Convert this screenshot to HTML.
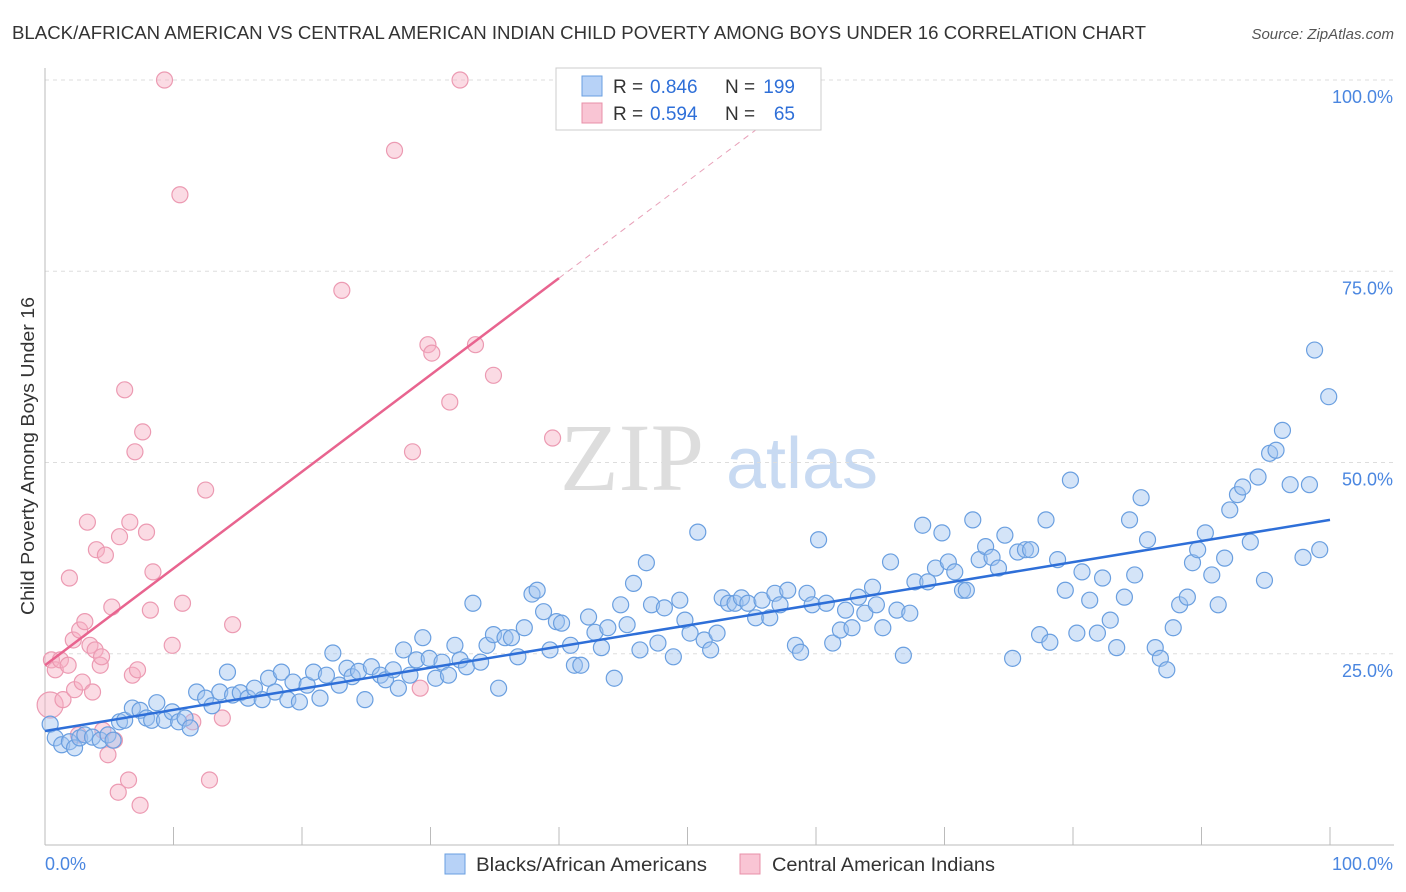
<!DOCTYPE html>
<html><head><meta charset="utf-8"><style>
body{margin:0;background:#fff;font-family:"Liberation Sans",sans-serif;}
svg{display:block}
</style></head><body>
<svg id="chart" width="1406" height="892" xmlns="http://www.w3.org/2000/svg">
<text x="12" y="39" font-size="18" fill="#333" textLength="1134" lengthAdjust="spacingAndGlyphs" font-family="Liberation Sans, sans-serif">BLACK/AFRICAN AMERICAN VS CENTRAL AMERICAN INDIAN CHILD POVERTY AMONG BOYS UNDER 16 CORRELATION CHART</text>
<text x="1394" y="39" font-size="15" fill="#555" text-anchor="end" font-style="italic">Source: ZipAtlas.com</text>
<g>
<text x="632" y="490" font-size="96" fill="#ddd" font-family="Liberation Serif, serif" text-anchor="middle">ZIP</text>
<text x="802" y="488" font-size="72" fill="#c8daf2" text-anchor="middle">atlas</text>
</g>
<g id="grid"></g><g id="axes"></g><g id="marks"></g>
<text transform="translate(34,456) rotate(-90)" font-size="18" fill="#333" text-anchor="middle" textLength="318" lengthAdjust="spacingAndGlyphs">Child Poverty Among Boys Under 16</text>
<g>
<rect x="556" y="68" width="265" height="62" fill="#fff" stroke="#ccc"/>
<rect x="582" y="76" width="20" height="20" fill="#b7d2f7" stroke="#6a9fe0"/>
<rect x="582" y="103" width="20" height="20" fill="#f9c5d4" stroke="#e890a8"/>
<text x="613" y="93" font-size="19" fill="#333">R =</text>
<text x="650" y="93" font-size="19" fill="#2e6fd8">0.846</text>
<text x="725" y="93" font-size="19" fill="#333">N =</text>
<text x="795" y="93" font-size="19" fill="#2e6fd8" text-anchor="end">199</text>
<text x="613" y="120" font-size="19" fill="#333">R =</text>
<text x="650" y="120" font-size="19" fill="#2e6fd8">0.594</text>
<text x="725" y="120" font-size="19" fill="#333">N =</text>
<text x="795" y="120" font-size="19" fill="#2e6fd8" text-anchor="end">65</text>
</g>
<g>
<rect x="445" y="854" width="20" height="20" fill="#b7d2f7" stroke="#6a9fe0"/>
<text x="476" y="871" font-size="19" fill="#333" textLength="231" lengthAdjust="spacingAndGlyphs">Blacks/African Americans</text>
<rect x="740" y="854" width="20" height="20" fill="#f9c5d4" stroke="#e890a8"/>
<text x="772" y="871" font-size="19" fill="#333" textLength="223" lengthAdjust="spacingAndGlyphs">Central American Indians</text>
</g>
</svg>
<script>
const yTicks=[25,50,75,100];
const yTickLabels=["25.0%","50.0%","75.0%","100.0%"];
const xTicks=[0,10,20,30,40,50,60,70,80,90,100];
const blueX=[0.4,0.8,1.3,1.9,2.3,2.7,3.1,3.7,4.3,4.9,5.3,5.8,6.2,6.8,7.4,7.9,8.3,8.7,9.3,9.9,10.4,10.9,11.3,11.8,12.5,13.0,13.6,14.2,14.6,15.2,15.8,16.3,16.9,17.4,17.9,18.4,18.9,19.3,19.8,20.4,20.9,21.4,21.9,22.4,22.9,23.5,23.9,24.4,24.9,25.4,26.1,26.5,27.1,27.5,27.9,28.4,28.9,29.4,29.9,30.4,30.9,31.4,31.9,32.3,32.8,33.3,33.9,34.4,34.9,35.3,35.8,36.3,36.8,37.3,37.9,38.3,38.8,39.3,39.8,40.2,40.9,41.2,41.7,42.3,42.8,43.3,43.8,44.3,44.8,45.3,45.8,46.3,46.8,47.2,47.7,48.2,48.9,49.4,49.8,50.2,50.8,51.3,51.8,52.3,52.7,53.2,53.7,54.2,54.7,55.3,55.8,56.4,56.8,57.2,57.8,58.4,58.8,59.3,59.7,60.2,60.8,61.3,61.9,62.3,62.8,63.3,63.8,64.4,64.7,65.2,65.8,66.3,66.8,67.3,67.7,68.3,68.7,69.3,69.8,70.3,70.8,71.4,71.7,72.2,72.7,73.2,73.7,74.2,74.7,75.3,75.7,76.3,76.7,77.4,77.9,78.2,78.8,79.4,79.8,80.3,80.7,81.3,81.9,82.3,82.9,83.4,84.0,84.4,84.8,85.3,85.8,86.4,86.8,87.3,87.8,88.3,88.9,89.3,89.7,90.3,90.8,91.3,91.8,92.2,92.8,93.2,93.8,94.4,94.9,95.3,95.8,96.3,96.9,97.9,98.4,98.8,99.2,99.9];
const blueY=[15.8,14.0,13.1,13.5,12.7,14.0,14.4,14.1,13.7,14.4,13.7,16.1,16.3,17.9,17.6,16.6,16.3,18.6,16.3,17.4,16.1,16.6,15.3,20.0,19.2,18.2,20.0,22.6,19.6,19.9,19.2,20.5,19.0,21.8,20.0,22.6,19.0,21.3,18.7,20.9,22.6,19.2,22.2,25.1,20.9,23.1,22.0,22.7,19.0,23.3,22.2,21.6,22.9,20.5,25.5,22.2,24.2,27.1,24.4,21.8,23.9,22.2,26.1,24.2,23.3,31.6,23.9,26.1,27.5,20.5,27.1,27.1,24.6,28.4,32.8,33.3,30.5,25.5,29.2,29.0,26.1,23.5,23.5,29.8,27.8,25.8,28.4,21.8,31.4,28.8,34.2,25.5,36.9,31.4,26.4,31.0,24.6,32.0,29.4,27.7,40.9,26.8,25.5,27.7,32.3,31.6,31.6,32.3,31.6,29.7,32.0,29.7,32.9,31.4,33.3,26.1,25.2,32.9,31.4,39.9,31.6,26.4,28.1,30.7,28.4,32.4,30.3,33.7,31.4,28.4,37.0,30.7,24.8,30.3,34.4,41.8,34.4,36.2,40.8,37.0,35.7,33.3,33.3,42.5,37.3,39.0,37.6,36.2,40.5,24.4,38.3,38.6,38.6,27.5,42.5,26.5,37.3,33.3,47.7,27.7,35.7,32.0,27.7,34.9,29.4,25.8,32.4,42.5,35.3,45.4,39.9,25.8,24.4,22.9,28.4,31.4,32.4,36.9,38.6,40.8,35.3,31.4,37.5,43.8,45.8,46.8,39.6,48.1,34.6,51.2,51.6,54.2,47.1,37.6,47.1,64.7,38.6,58.6];
const pinkX=[0.4,0.5,0.8,1.2,1.4,1.8,1.9,2.2,2.3,2.6,2.7,2.9,3.1,3.3,3.5,3.7,3.9,4.0,4.3,4.4,4.5,4.7,4.9,5.2,5.4,5.7,5.8,6.2,6.5,6.6,6.8,7.0,7.2,7.4,7.6,7.9,8.2,8.4,9.3,9.9,10.5,10.7,11.5,12.5,12.8,13.8,14.6,23.1,27.2,28.6,29.2,29.8,30.1,31.5,32.3,33.5,34.9,39.5];
const pinkY=[18.3,24.2,22.9,24.2,19.0,23.5,34.9,26.8,20.3,14.4,28.1,21.3,29.2,42.2,26.1,20.0,25.5,38.6,23.5,24.6,15.0,37.9,11.8,31.1,13.7,6.9,40.3,59.5,8.5,42.2,22.2,51.4,22.9,5.2,54.0,40.9,30.7,35.7,100,26.1,85.0,31.6,16.1,46.4,8.5,16.6,28.8,72.5,90.8,51.4,20.5,65.4,64.3,57.9,100,65.4,61.4,53.2];
const blueFit=[14.9,42.5];
const pinkFit=[23.5,74.1];
const L=45,R=1330,T=80,B=845;
const sx=v=>L+(R-L)*v/100, sy=v=>B-(B-T)*v/100;
const NS="http://www.w3.org/2000/svg";
function mk(t,a,p){const e=document.createElementNS(NS,t);for(const k in a)e.setAttribute(k,a[k]);p.appendChild(e);return e;}
const grid=document.getElementById('grid'),axes=document.getElementById('axes'),marks=document.getElementById('marks');
yTicks.forEach((v,i)=>{
 const g=mk('line',{x1:L,x2:1394,y1:sy(v),y2:sy(v),stroke:'#ddd','stroke-dasharray':'4,4'},grid);
 
 
 const t=mk('text',{x:1393,y:sy(v)+23,'font-size':18,fill:'#4a86e0','text-anchor':'end'},axes);
 t.textContent=yTickLabels[i];
 
 
});
const ax=mk('line',{x1:L,x2:1394,y1:B,y2:B,stroke:'#bbb'},axes);


const ay=mk('line',{x1:L,x2:L,y1:68,y2:B,stroke:'#bbb'},axes);


xTicks.forEach(v=>{
 const t=mk('line',{x1:sx(v),x2:sx(v),y1:B,y2:B-18,stroke:'#bbb'},axes);
 
 
});
const x0=mk('text',{x:45,y:870,'font-size':18,fill:'#4a86e0'},axes);x0.textContent='0.0%';


const x1=mk('text',{x:1393,y:870,'font-size':18,fill:'#4a86e0','text-anchor':'end'},axes);x1.textContent='100.0%';


pinkX.forEach((x,i)=>{
 const c=mk('circle',{cx:sx(x),cy:sy(pinkY[i]),r:i==0?13:8,fill:'rgba(246,175,196,0.45)',stroke:'#ec9ab2','stroke-width':1.2},marks);
 
 
});
blueX.forEach((x,i)=>{
 const c=mk('circle',{cx:sx(x),cy:sy(blueY[i]),r:8,fill:'rgba(160,196,240,0.45)',stroke:'#6a9fe0','stroke-width':1.2},marks);
 
 
});
const bl=mk('line',{x1:sx(0),y1:sy(blueFit[0]),x2:sx(100),y2:sy(blueFit[1]),stroke:'#2e6fd8','stroke-width':2.5},marks);


const slope=(pinkFit[1]-pinkFit[0])/40;
const pl=mk('line',{x1:sx(0),y1:sy(pinkFit[0]),x2:sx(40),y2:sy(pinkFit[1]),stroke:'#e8648f','stroke-width':2.5},marks);


const xe=(100-pinkFit[0])/slope;
const pd=mk('line',{x1:sx(40),y1:sy(pinkFit[1]),x2:sx(xe),y2:sy(100),stroke:'#e8a0b8','stroke-width':1,'stroke-dasharray':'6,5'},marks);


</script>
</body></html>
